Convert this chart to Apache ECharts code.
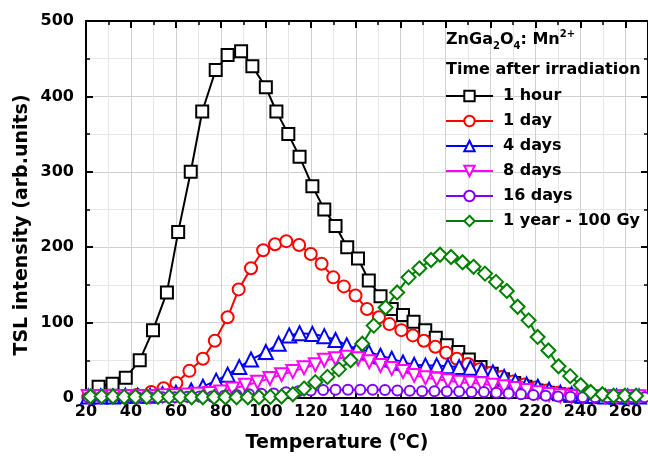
<!DOCTYPE html>
<html>
<head>
<meta charset="utf-8">
<script src="https://cdn.jsdelivr.net/npm/echarts@6/dist/echarts.min.js"></script>
<style>html,body{margin:0;padding:0;background:#fff}#c{width:648px;height:458px}</style>
</head>
<body>
<div id="c"></div>
<script>
// ---- data ----
const names = ['1 hour', '1 day', '4 days', '8 days', '16 days', '1 year - 100 Gy'];
const xTicks = [20, 40, 60, 80, 100, 120, 140, 160, 180, 200, 220, 240, 260];
const yTicks = [0, 100, 200, 300, 400, 500];

const hourT = [25.6, 31.8, 37.7, 43.9, 49.8, 56, 61, 66.6, 71.7, 77.7, 83, 89, 94, 100, 104.7, 110, 115, 120.7, 126, 131, 136.2, 141, 145.8, 151, 156, 161, 165.7, 170.9, 175.6, 180.5, 185.6, 190.3, 195.5, 200.5, 205.5, 210.5, 215.5, 220.5, 225.5, 230.5, 235.5, 240.5, 245.5, 250.5, 255.5, 260.5, 265.5];
const hourI = [15, 19, 27, 50, 90, 140, 220, 300, 380, 435, 455, 460, 440, 412, 380, 350, 320, 281, 250, 228, 200, 185, 156, 135, 118, 110, 101, 90, 80, 70, 61, 51, 41, 32, 25, 20, 15, 10, 7, 5, 3, 2, 2, 1.5, 1.5, 1.5, 1.5];

const dayT = [21, 26.5, 32, 37.3, 42.5, 49, 54.5, 60.2, 66, 72, 77.3, 83, 87.9, 93.4, 98.8, 104.1, 109.1, 114.8, 120, 124.8, 130, 134.7, 139.9, 145, 150.3, 155, 160.3, 165.4, 170.3, 175.4, 180.2, 185, 190, 195, 200, 205, 210, 215, 220, 225, 230, 235, 240, 245, 250, 255, 260, 265];
const dayI = [1, 1, 1.5, 2, 4, 8, 13, 20, 36, 52, 76, 107, 144, 172, 196, 204, 208, 203, 191, 178, 160, 148, 136, 118, 107, 98, 90, 83, 76, 68, 60, 52, 45, 38, 33, 28, 22, 18, 14, 10, 7, 5, 3, 2, 1.5, 1.5, 1.5, 1.5];

const d4T = [21, 26.5, 32, 37.5, 43, 48.5, 54, 60, 66.8, 72, 77.9, 83, 88.2, 93.4, 100, 105.7, 110.4, 115, 120.7, 126, 131, 136, 140.6, 145.8, 151, 156, 161, 166, 171, 176, 181, 186, 191, 196, 201, 206, 211, 216, 221, 226, 231, 236, 241, 246, 251, 256, 261, 266];
const d4I = [2, 2, 2, 3, 3, 3, 5, 7, 10, 15, 23, 31, 41, 51, 61, 72, 83, 86, 85, 82, 77, 70, 65, 61, 56, 52, 47, 44, 43, 43, 42, 41, 40, 37, 34, 28, 22, 18, 15, 11, 7, 5, 3, 2.5, 2, 2, 2, 2];

const d8T = [21, 26.5, 32, 37.5, 43, 48.5, 54, 59.5, 65, 70, 75, 80, 85.2, 90.9, 96.3, 101.8, 107, 112, 117, 122, 126, 131, 136, 141, 146, 151, 156, 161, 166, 171, 176, 181, 186, 191, 196, 201, 206, 211, 216, 221, 226, 231, 236, 241, 246, 251, 256, 261, 266];
const d8I = [2, 2, 2, 2, 2, 2, 3, 3, 4, 5, 6, 8, 12, 17, 21, 26, 31, 35, 40, 44, 50, 52, 54, 52, 48, 43, 39, 35, 30, 27, 25, 23, 21, 20, 19, 17, 15, 12.5, 10, 7, 4.5, 3, 2, 1.5, 1.5, 1.5, 1.5, 1.5, 1.5];

const d16T = [21, 26.5, 32, 37.5, 43, 48.5, 54, 59.5, 65, 70.5, 76, 81.5, 87, 92.5, 98, 103.5, 109, 114.5, 120, 125.5, 131, 136.5, 142, 147.5, 153, 158.5, 164, 169.5, 175, 180.5, 186, 191.5, 197, 202.5, 208, 213.5, 219, 224.5, 230, 235.5, 241, 246.5, 252, 257.5, 263, 268.5];
const d16I = [1, 1, 1, 1, 1, 1, 1, 1, 1.5, 2, 2, 3, 4, 5, 5.5, 6, 7.5, 9, 10, 10.5, 11, 11, 11, 11, 10.5, 10, 9.5, 9, 9, 8.5, 8.5, 8, 8, 7, 6, 5, 4, 3, 2, 1.5, 1, 1, 1, 1, 1, 1];

const yearT = [22, 27, 32, 37, 42, 47, 52, 57, 62, 67, 72, 77, 82, 87, 92, 97, 102, 107, 112, 117, 122, 127.4, 132.5, 137.7, 142.9, 148, 153.3, 158.4, 163.5, 168.3, 173.5, 177.5, 182.4, 187.5, 192.4, 197.5, 202.4, 207.2, 212, 216.9, 220.9, 225.7, 230.2, 235.4, 240.1, 244.5, 249.7, 254.7, 259.7, 264.7];
const yearI = [2, 2, 2, 1.5, 1.5, 1.5, 1.5, 1.5, 1.5, 1, 1, 1, 1, 1, 1, 1, 1.5, 2, 5, 12.5, 21, 28, 38, 50, 72, 96, 120, 140, 160, 172, 183, 190, 187, 180, 174, 165, 154, 142, 121, 103, 81, 63, 42, 29, 17, 8, 5, 3, 3, 3];

// ---- chart ----
const FONT = 'DejaVu Sans';
const zip = (a, b) => a.map((v, i) => [v, b[i]]);
const seriesDefs = [
  {x: hourT, y: hourI, color: '#000000', symbol: 'emptyRect', size: 12},
  {x: dayT, y: dayI, color: '#ff0000', symbol: 'emptyCircle', size: 12},
  {x: d4T, y: d4I, color: '#0000ff', symbol: 'emptyTriangle', size: 14},
  {x: d8T, y: d8I, color: '#ff00ff', symbol: 'emptyTriangle', size: 13, rotate: 180},
  {x: d16T, y: d16I, color: '#8000ff', symbol: 'emptyCircle', size: 10},
  {x: yearT, y: yearI, color: '#008000', symbol: 'emptyDiamond', size: 14}
];

const chart = echarts.init(document.getElementById('c'), null, {renderer: 'canvas'});
const axisCommon = {
  type: 'value', min: 20, max: 270, interval: 20,
  axisLine: {show: true, onZero: false, lineStyle: {color: '#000', width: 2}},
  axisTick: {show: true, inside: true, length: 7, lineStyle: {color: '#000', width: 2}},
  minorTick: {show: true, splitNumber: 2, length: 4, lineStyle: {color: '#000', width: 1.5}}
};
const labelStyle = {fontSize: 16, fontWeight: 'bold', fontFamily: FONT, color: '#000'};

chart.setOption({
  animation: false,
  backgroundColor: '#fff',
  grid: {left: 86, top: 21, width: 564, height: 377, containLabel: false},
  title: [
    {
      text: 'ZnGa{sub|2}O{sub|4}: Mn{sup|2+}', left: 446, top: 29, padding: 0,
      textStyle: {fontSize: 16, fontWeight: 'bold', fontFamily: FONT, color: '#000', lineHeight: 22,
        rich: {
          sub: {fontSize: 10, fontWeight: 'bold', fontFamily: FONT, color: '#000', lineHeight: 10, verticalAlign: 'bottom'},
          sup: {fontSize: 10, fontWeight: 'bold', fontFamily: FONT, color: '#000', lineHeight: 12, verticalAlign: 'top'}
        }}
    },
    {
      text: 'Time after irradiation', left: 446, top: 59, padding: 0,
      textStyle: {fontSize: 16, fontWeight: 'bold', fontFamily: FONT, color: '#000', lineHeight: 22}
    }
  ],
  legend: {
    data: names, orient: 'vertical', left: 445, top: 88, padding: 0,
    itemWidth: 47, itemHeight: 13, itemGap: 9,
    textStyle: {fontSize: 16, fontWeight: 'bold', fontFamily: FONT, color: '#000', padding: [0, 0, 0, 5]}
  },
  xAxis: [
    Object.assign({}, axisCommon, {
      position: 'bottom',
      axisLabel: Object.assign({}, labelStyle, {margin: 6, showMaxLabel: false,
        formatter: v => (xTicks.indexOf(v) >= 0 ? String(v) : '')}),
      splitLine: {show: true, lineStyle: {color: '#cfcfcf', width: 1}},
      minorSplitLine: {show: true, lineStyle: {color: '#e6e6e6', width: 1}}
    }),
    Object.assign({}, axisCommon, {
      position: 'top',
      axisLabel: {show: false},
      splitLine: {show: false}
    })
  ],
  yAxis: [
    {
      type: 'value', min: 0, max: 500, interval: 100, position: 'left',
      axisLine: {show: true, onZero: false, lineStyle: {color: '#000', width: 2}},
      axisTick: {show: true, inside: true, length: 7, lineStyle: {color: '#000', width: 2}},
      minorTick: {show: true, splitNumber: 2, length: 4, lineStyle: {color: '#000', width: 1.5}},
      axisLabel: Object.assign({}, labelStyle, {margin: 12,
        formatter: v => (yTicks.indexOf(v) >= 0 ? String(v) : '')}),
      splitLine: {show: true, lineStyle: {color: '#cfcfcf', width: 1}},
      minorSplitLine: {show: true, lineStyle: {color: '#e6e6e6', width: 1}}
    },
    {
      type: 'value', min: 0, max: 500, interval: 100, position: 'right',
      axisLine: {show: true, onZero: false, lineStyle: {color: '#000', width: 2}},
      axisTick: {show: true, inside: true, length: 7, lineStyle: {color: '#000', width: 2}},
      minorTick: {show: true, splitNumber: 2, length: 4, lineStyle: {color: '#000', width: 1.5}},
      axisLabel: {show: false},
      splitLine: {show: false}
    }
  ],
  graphic: [
    {
      type: 'text', x: 337, y: 443, silent: true,
      style: {
        text: 'Temperature ({sup|o}C)', fontSize: 19, fontWeight: 'bold', fontFamily: FONT, fill: '#000',
        lineHeight: 24,
        align: 'center', verticalAlign: 'middle', textAlign: 'center', textVerticalAlign: 'middle',
        rich: {sup: {fontSize: 12, fontWeight: 'bold', fontFamily: FONT, fill: '#000', lineHeight: 12, padding: [0, 0, 12, 0]}}
      }
    },
    {
      type: 'text', x: 22, y: 225, rotation: Math.PI / 2, silent: true,
      style: {
        text: 'TSL intensity (arb.units)', fontSize: 19, fontWeight: 'bold', fontFamily: FONT, fill: '#000',
        align: 'center', verticalAlign: 'middle', textAlign: 'center', textVerticalAlign: 'middle'
      }
    }
  ],
  series: seriesDefs.map((s, i) => ({
    name: names[i], type: 'line', xAxisIndex: 0, yAxisIndex: 0,
    data: zip(s.x, s.y),
    symbol: s.symbol, symbolSize: s.size, symbolRotate: s.rotate || 0,
    showAllSymbol: true, clip: true,
    lineStyle: {color: s.color, width: 2},
    itemStyle: {color: s.color, borderColor: s.color, borderWidth: 1.8},
    emphasis: {disabled: true}
  }))
});
</script>
</body>
</html>
